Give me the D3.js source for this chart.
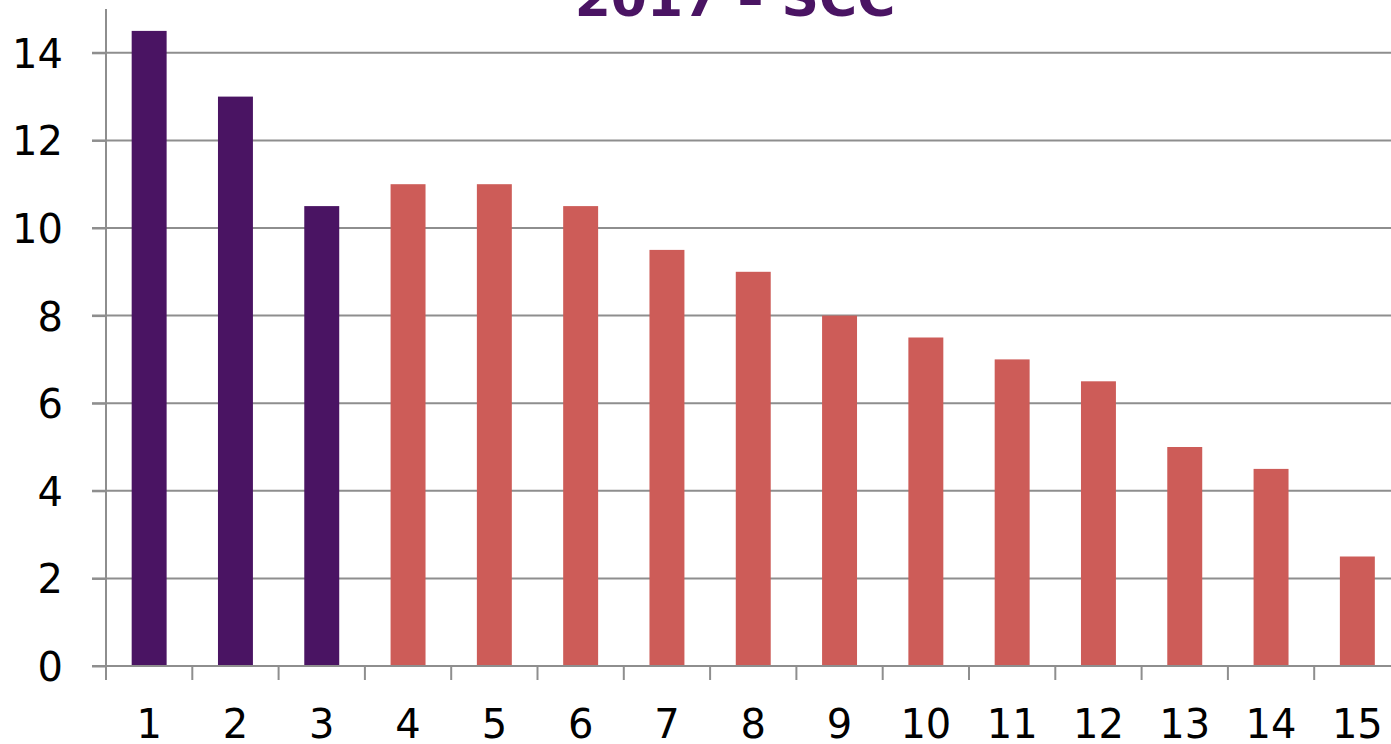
<!DOCTYPE html>
<html>
<head>
<meta charset="utf-8">
<script src="https://cdn.jsdelivr.net/npm/d3@7"></script>
<style>
  body { margin: 0; background: #fff; }
  svg { display: block; }
</style>
</head>
<body>
<svg width="1391" height="744"></svg>
<script>
var categories = ['1', '2', '3', '4', '5', '6', '7', '8', '9', '10', '11', '12', '13', '14', '15'],
    values = [14.5, 13, 10.5, 11, 11, 10.5, 9.5, 9, 8, 7.5, 7, 6.5, 5, 4.5, 2.5],
    highlighted = ['1', '2', '3'],
    yTicks = [0, 2, 4, 6, 8, 10, 12, 14],
    title = '2017 – SCC';

var svg = d3.select('svg'),
    plotLeft = 106,
    plotRight = 1400.5,
    plotTop = 9,
    plotBottom = 666,
    purple = '#4a1463',
    red = '#cd5c58',
    gridColor = '#8e8e8e',
    font = 'DejaVu Sans, Verdana, sans-serif';

var x = d3.scaleBand()
          .domain(categories)
          .range([plotLeft, plotRight])
          .paddingInner(0.595)
          .paddingOuter(0.2975),
    xb = d3.scaleBand().domain(categories).range([plotLeft, plotRight]),
    y = d3.scaleLinear().domain([0, 15]).range([plotBottom, plotTop]);

// gridlines
svg.append('g')
  .selectAll('line')
  .data(yTicks.slice(1))
  .enter().append('line')
    .attr('x1', plotLeft - 14)
    .attr('x2', 1391)
    .attr('y1', function(d) { return y(d); })
    .attr('y2', function(d) { return y(d); })
    .attr('stroke', gridColor)
    .attr('stroke-width', 2);

// bars
svg.append('g')
  .selectAll('rect')
  .data(values)
  .enter().append('rect')
    .attr('x', function(d, i) { return x(categories[i]); })
    .attr('width', x.bandwidth())
    .attr('y', function(d) { return y(d); })
    .attr('height', function(d) { return plotBottom - y(d); })
    .attr('fill', function(d, i) { return highlighted.indexOf(categories[i]) >= 0 ? purple : red; });

// y axis
var yAxis = svg.append('g')
  .attr('transform', 'translate(' + plotLeft + ',0)')
  .call(d3.axisLeft(y).tickValues(yTicks).tickSize(14).tickPadding(29));
yAxis.select('.domain').remove();
yAxis.append('line')
  .attr('x1', 0).attr('x2', 0)
  .attr('y1', plotTop).attr('y2', plotBottom + 14)
  .attr('stroke', gridColor).attr('stroke-width', 2);

// x axis
var xAxis = svg.append('g')
  .attr('transform', 'translate(0,' + plotBottom + ')')
  .call(d3.axisBottom(x).tickSize(0).tickPadding(55));
xAxis.select('.domain').remove();
xAxis.append('line')
  .attr('x1', plotLeft - 14).attr('x2', 1391)
  .attr('y1', 0).attr('y2', 0)
  .attr('stroke', gridColor).attr('stroke-width', 2);
xAxis.selectAll('.boundary')
  .data(categories)
  .enter().append('line')
    .attr('class', 'boundary')
    .attr('x1', function(d) { return xb(d); })
    .attr('x2', function(d) { return xb(d); })
    .attr('y1', 0).attr('y2', 14)
    .attr('stroke', gridColor).attr('stroke-width', 2);

svg.selectAll('.tick line').attr('stroke', gridColor).attr('stroke-width', 2);
svg.selectAll('.tick text')
  .attr('font-family', font)
  .attr('font-size', 40)
  .attr('fill', '#000');
yAxis.selectAll('.tick text').attr('dy', '0.36em');
xAxis.selectAll('.tick text').attr('dy', 0).attr('y', 72);

// title
svg.append('text')
  .attr('x', 735)
  .attr('y', 16)
  .attr('text-anchor', 'middle')
  .attr('font-family', font)
  .attr('font-weight', 'bold')
  .attr('font-size', 52)
  .attr('fill', purple)
  .text(title);
</script>
</body>
</html>
